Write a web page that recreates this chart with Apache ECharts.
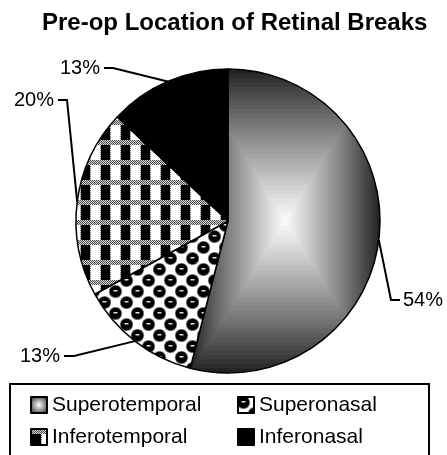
<!DOCTYPE html>
<html>
<head>
<meta charset="utf-8">
<script src="https://cdn.jsdelivr.net/npm/echarts@6/dist/echarts.min.js"></script>
<style>
html, body { margin: 0; padding: 0; background: #fff; }
#main { width: 447px; height: 455px; }
</style>
</head>
<body>
<div id="main"></div>
<script>
var chartTitle = 'Pre-op Location of Retinal Breaks';
var categories = ['Superotemporal', 'Superonasal', 'Inferotemporal', 'Inferonasal'];
var values = [54, 13, 20, 13];

var FONT = '"Liberation Sans", Arial, sans-serif';
var PIE_C = [228, 221];
var PIE_R = 152;

// where each percent label sits (text anchor, elbow of the leader line, line end)
var labelSpots = [
    {x: 403, y: 300, align: 'left',  bend: [391, 300], end: [400, 300]},
    {x: 60,  y: 356, align: 'right', bend: [74, 356],  end: [64, 356]},
    {x: 54,  y: 100, align: 'right', bend: [67, 100],  end: [58, 100]},
    {x: 100, y: 68,  align: 'right', bend: [113, 68],  end: [104, 68]}
];

function newCanvas(w, h) {
    var c = document.createElement('canvas');
    c.width = w;
    c.height = h;
    return c;
}

// excel style "rectangular" gradient, laid over the box of the first slice
function rectGradient(w, h) {
    var c = newCanvas(w, h);
    var ctx = c.getContext('2d');
    var total = 0;
    for (var k = 0; k < values.length; k++) total += values[k];
    var sweep = values[0] / total * Math.PI * 2;
    var x0 = PIE_C[0], x1 = PIE_C[0], y0 = PIE_C[1], y1 = PIE_C[1];
    for (var i = 0; i <= 360; i++) {
        var a = sweep * i / 360;
        var px = PIE_C[0] + PIE_R * Math.sin(a);
        var py = PIE_C[1] - PIE_R * Math.cos(a);
        x0 = Math.min(x0, px); x1 = Math.max(x1, px);
        y0 = Math.min(y0, py); y1 = Math.max(y1, py);
    }
    var mx = (x0 + x1) / 2, my = (y0 + y1) / 2;
    var hw = (x1 - x0) / 2, hh = (y1 - y0) / 2;
    ctx.fillStyle = '#222';
    ctx.fillRect(0, 0, w, h);
    var steps = 34;
    for (var s = 0; s < steps; s++) {
        var t = s / steps;
        var g = Math.round(34 + (255 - 34) * Math.pow(t, 0.9));
        ctx.fillStyle = 'rgb(' + g + ',' + g + ',' + g + ')';
        ctx.fillRect(mx - hw * (1 - t), my - hh * (1 - t), 2 * hw * (1 - t), 2 * hh * (1 - t));
    }
    return c;
}

// black balls on white, staggered
function ballTile() {
    var w = 22, h = 22;
    var c = newCanvas(w, h);
    var ctx = c.getContext('2d');
    ctx.fillStyle = '#fff';
    ctx.fillRect(0, 0, w, h);
    var pts = [[5.5, 5.5], [16.5, 16.5], [16.5 - w, 16.5], [16.5, 16.5 - h], [16.5 - w, 16.5 - h],
               [5.5 + w, 5.5], [5.5, 5.5 + h], [5.5 + w, 5.5 + h]];
    for (var i = 0; i < pts.length; i++) {
        ctx.fillStyle = '#777';
        ctx.beginPath();
        ctx.arc(pts[i][0], pts[i][1], 6.6, 0, Math.PI * 2);
        ctx.fill();
        ctx.fillStyle = '#000';
        ctx.beginPath();
        ctx.arc(pts[i][0], pts[i][1], 5.8, 0, Math.PI * 2);
        ctx.fill();
        ctx.fillStyle = '#e0e0e0';
        ctx.fillRect(pts[i][0] - 2, pts[i][1] - 1.5, 4, 1.5);
    }
    return c;
}

// plaid: dotted grey bands, black and white blocks
function plaidTile() {
    var w = 20, h = 20;
    var c = newCanvas(w, h);
    var ctx = c.getContext('2d');
    ctx.fillStyle = '#fff';
    ctx.fillRect(0, 0, w, h);
    for (var y = 0; y < 5; y++) {
        for (var x = 0; x < w; x++) {
            ctx.fillStyle = (x + y) % 2 === 0 ? '#4a4a4a' : '#d8d8d8';
            ctx.fillRect(x, y, 1, 1);
        }
    }
    ctx.fillStyle = '#000';
    ctx.fillRect(1, 5, 9, 15);
    for (var yy = 5; yy < h; yy++) {
        ctx.fillStyle = yy % 2 === 0 ? '#777' : '#ddd';
        ctx.fillRect(10, yy, 1, 1);
        ctx.fillRect(0, yy, 1, 1);
    }
    return c;
}

var fills = [
    {image: rectGradient(447, 455), repeat: 'no-repeat'},
    {image: ballTile(), repeat: 'repeat'},
    {image: plaidTile(), repeat: 'repeat'},
    '#000'
];

var pieData = [];
for (var i = 0; i < categories.length; i++) {
    pieData.push({name: categories[i], value: values[i], itemStyle: {color: fills[i]}});
}

var legendData = [];
for (var j = 0; j < categories.length; j++) {
    legendData.push({name: categories[j], textStyle: {width: j % 2 === 0 ? 179 : 152}});
}
legendData[0].itemStyle = {
    color: {type: 'radial', x: 0.5, y: 0.5, r: 0.6,
        colorStops: [{offset: 0, color: '#fff'}, {offset: 1, color: '#333'}]}
};

var chart = echarts.init(document.getElementById('main'));
var option = {
    backgroundColor: '#fff',
    animation: false,
    title: {
        text: chartTitle,
        left: 42,
        top: 11,
        padding: 0,
        textStyle: {fontFamily: FONT, fontSize: 24, fontWeight: 'bold', color: '#000'}
    },
    legend: {
        data: legendData,
        orient: 'horizontal',
        left: 10,
        top: 384,
        width: 419,
        padding: [8, 18, 40, 20],
        itemGap: 6,
        itemWidth: 16,
        itemHeight: 16,
        icon: 'rect',
        borderColor: '#000',
        borderWidth: 2,
        itemStyle: {borderColor: '#000', borderWidth: 2},
        textStyle: {fontFamily: FONT, fontSize: 21, color: '#000', lineHeight: 26}
    },
    series: [{
        type: 'pie',
        center: PIE_C,
        radius: PIE_R,
        startAngle: 90,
        clockwise: true,
        avoidLabelOverlap: false,
        emphasis: {disabled: true},
        data: pieData,
        itemStyle: {borderColor: '#000', borderWidth: 1.5},
        label: {
            show: true,
            position: 'outside',
            formatter: '{d}%',
            color: '#000',
            fontFamily: FONT,
            fontSize: 20
        },
        labelLine: {show: true, length: 10, length2: 10, lineStyle: {color: '#000', width: 2}},
        labelLayout: function(p) {
            var s = labelSpots[p.dataIndex];
            return {
                x: s.x,
                y: s.y,
                align: s.align,
                verticalAlign: 'middle',
                labelLinePoints: [p.labelLinePoints[0], s.bend, s.end]
            };
        }
    }]
};
chart.setOption(option);
</script>
</body>
</html>
